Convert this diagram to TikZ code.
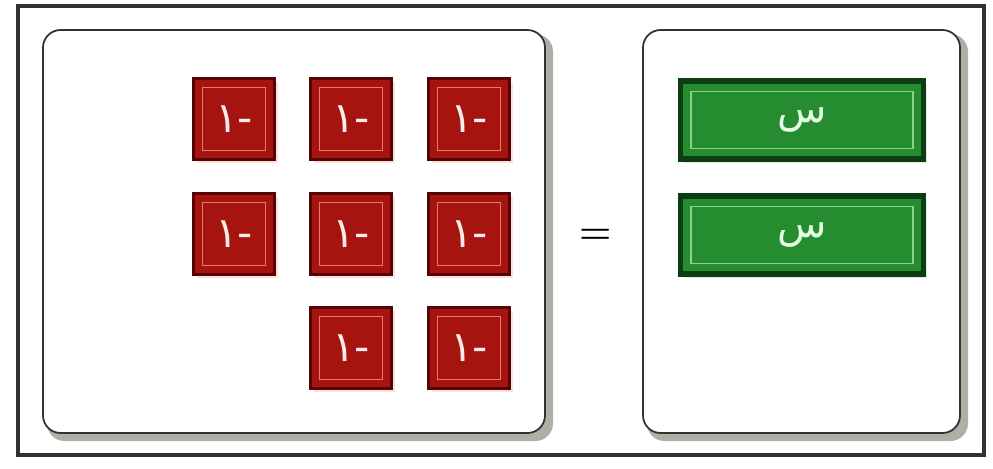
\documentclass[tikz,border=0pt]{standalone}
\usepackage{fontspec}
\newfontfamily\arabicfont[Script=Arabic]{DejaVu Sans}
\TeXXeTstate=1
\usetikzlibrary{shadows}

\definecolor{tilered}{RGB}{165,20,14}
\definecolor{tiledark}{RGB}{85,6,4}
\definecolor{tileline}{RGB}{235,120,110}
\definecolor{bargreen}{RGB}{38,140,48}
\definecolor{bardark}{RGB}{12,60,18}
\definecolor{barline}{RGB}{140,210,140}
\definecolor{framegray}{RGB}{50,50,50}
\definecolor{panelshade}{RGB}{175,175,165}

\tikzset{
	panel/.style={draw=framegray, line width=1pt, fill=white, rounded corners=10pt},
	panelshadow/.style={fill=panelshade, rounded corners=10pt},
	tile/.style={draw=tiledark, line width=2pt, fill=tilered,
		minimum width=1.62cm, minimum height=1.62cm, inner sep=0pt,
		text=red!8, font=\arabicfont\fontsize{24}{24}\selectfont,
		drop shadow={shadow xshift=2pt, shadow yshift=-2pt, fill=red!25},
		path picture={\draw[tileline, line width=0.8pt]
			([shift={(5pt,-5pt)}]path picture bounding box.north west) rectangle
			([shift={(-5pt,5pt)}]path picture bounding box.south east);}},
	bar/.style={draw=bardark, line width=3pt, fill=bargreen,
		minimum width=4.86cm, minimum height=1.56cm, inner sep=0pt,
		text=green!10, font=\arabicfont\fontsize{23}{23}\selectfont,
		drop shadow={shadow xshift=2pt, shadow yshift=-2pt, fill=gray!35},
		path picture={\draw[barline, line width=0.8pt]
			([shift={(6pt,-6pt)}]path picture bounding box.north west) rectangle
			([shift={(-6pt,6pt)}]path picture bounding box.south east);}}
}

\begin{document}
\begin{tikzpicture}[x=0.02cm, y=-0.02cm]
	\useasboundingbox (0,0) rectangle (993,468);
	
	% Rahmen
	\draw[framegray, line width=1.8pt] (18,6) rectangle (984,455);
	
	% linke Tafel
	\fill[panelshadow] (47,34) rectangle (553,441);
	\draw[panel] (43,30) rectangle (545,433);
	
	% rechte Tafel
	\fill[panelshadow] (647,34) rectangle (968,441);
	\draw[panel] (643,30) rectangle (960,433);
	
	% Plaettchen -1
	\foreach \row/\col/\x/\y in {1/1/234/119, 1/2/351/119, 1/3/469/119,
		2/1/234/234, 2/2/351/234, 2/3/469/234,
		3/2/351/348, 3/3/469/348}
	\node[tile] (tile-\row-\col) at (\x,\y) {\beginR -١\endR};
	
	% Gleichheitszeichen
	\node[font=\fontsize{21}{21}\selectfont\bfseries] (eq) at (596,236) {=};
	
	% Balken s
	\node[bar] (bar-1) at (802,120) {\beginR س\endR};
	\node[bar] (bar-2) at (802,235) {\beginR س\endR};
\end{tikzpicture}
\end{document}
